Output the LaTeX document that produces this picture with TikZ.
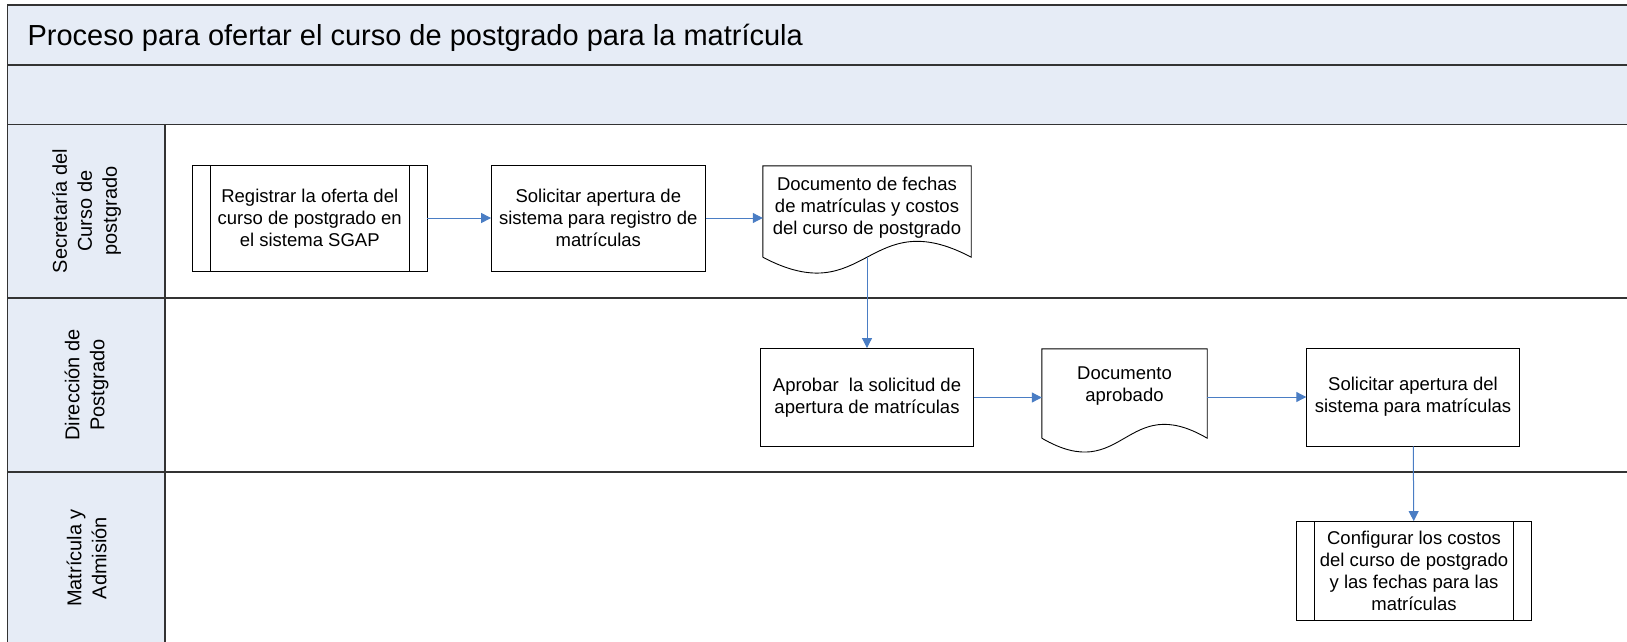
\documentclass[tikz,border=0pt]{standalone}
\usepackage{fontspec}
\setmainfont{Liberation Sans}
\usepackage{tikz}
\usetikzlibrary{arrows.meta,calc}
\usepackage{xcolor}
\definecolor{lanefill}{HTML}{E6ECF6}
\definecolor{flowblue}{HTML}{4A7DC4}
\definecolor{laneline}{HTML}{333333}

% documento: cuerpo del nodo + borde ondulado abajo
\newcommand{\docpath}[4]{%
  \draw[line width=0.9pt] ($(#1.south west)+(0,#2)$) -- (#1.north west) -- (#1.north east)
    -- ($(#1.south east)+(0,#2)$) .. controls +(-#3,-#4) and +(#3,#4) .. ($(#1.south west)+(0,#2)$);}

\begin{document}
\begin{tikzpicture}[x=1pt, y=-1pt,
  box/.style={draw, line width=0.9pt, align=center, inner sep=0pt,
    font=\fontsize{18.5}{21.8}\selectfont},
  subproc/.style={box, path picture={
    \draw[line width=0.9pt] ([xshift=17.5pt]path picture bounding box.north west) -- ([xshift=17.5pt]path picture bounding box.south west);
    \draw[line width=0.9pt] ([xshift=-17.5pt]path picture bounding box.north east) -- ([xshift=-17.5pt]path picture bounding box.south east);}},
  docu/.style={align=center, inner sep=0pt, font=\fontsize{18.5}{21.8}\selectfont},
  lane/.style={rotate=90, align=center, font=\fontsize{20}{25}\selectfont},
  flow/.style={flowblue, line width=1pt, -{Triangle[length=10pt,width=10pt]}}]
  \useasboundingbox (0,0) rectangle (1627,642);
  % bandas y carriles
  \fill[lanefill] (7.5,5) rectangle (1640,124.5);
  \fill[lanefill] (7.5,124.5) rectangle (165,650);
  \draw[laneline, line width=1.6pt] (1640,5) -- (7.5,5) -- (7.5,650);
  \draw[laneline, line width=1.6pt] (165,124.5) -- (165,650);
  \foreach \y in {65,124.5,298,472}
    \draw[laneline, line width=1.6pt] (7.5,\y) -- (1640,\y);
  \node[anchor=base west, font=\fontsize{29}{34}\selectfont] (titulo) at (24,46)
    {Proceso para ofertar el curso de postgrado para la matrícula};
  \node[lane] (secre) at (86.5,211) {Secretaría del\\Curso de\\postgrado};
  \node[lane] (direc) at (86.5,385) {Dirección de\\Postgrado};
  \node[lane] (matri) at (86.5,558) {Matrícula y\\Admisión};
  % actividades
  \node[subproc, minimum width=234.5pt, minimum height=106pt] (reg) at (309.75,218)
    {Registrar la oferta del\\curso de postgrado en\\el sistema SGAP};
  \node[box, minimum width=213.5pt, minimum height=106pt] (sol) at (598.3,218)
    {Solicitar apertura de\\sistema para registro de\\matrículas};
  \node[docu, minimum width=208pt, minimum height=84pt] (docfe) at (867,208)
    {Documento de fechas\\de matrículas y costos\\del curso de postgrado};
  \docpath{docfe}{7}{104}{55}
  \node[box, minimum width=213.5pt, minimum height=98pt] (apr) at (867,397.5)
    {Aprobar~ la solicitud de\\apertura de matrículas};
  \node[docu, minimum width=165pt, minimum height=74pt] (docap) at (1124.5,386)
    {Documento\\aprobado};
  \docpath{docap}{15}{82.5}{48}
  \node[box, minimum width=212.5pt, minimum height=98pt] (solsis) at (1413,397)
    {Solicitar apertura del\\sistema para matrículas};
  \node[subproc, minimum width=234.7pt, minimum height=99pt] (conf) at (1414,571)
    {Configurar los costos\\del curso de postgrado\\y las fechas para las\\matrículas};
  % conectores
  \coordinate (docfeb) at ($(docfe.south)+(0,7)$);
  \draw[flow] (reg) -- (sol);
  \draw[flow] (sol.east) -- (sol.east -| docfe.west);
  \draw[flow] (docfeb) -- (apr);
  \draw[flow] (apr.east) -- (apr.east -| docap.west);
  \draw[flow] (solsis.west -| docap.east) -- (solsis.west);
  \draw[flow] (solsis) -- (conf);
\end{tikzpicture}
\end{document}
